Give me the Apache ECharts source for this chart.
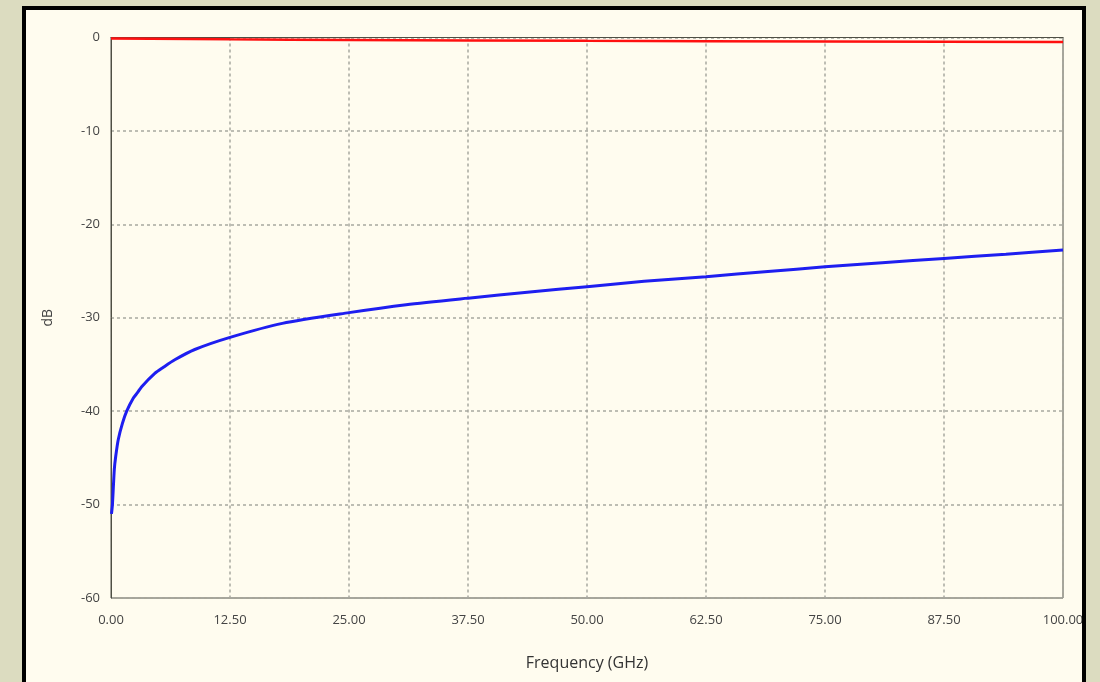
<!DOCTYPE html>
<html>
<head>
<meta charset="utf-8">
<script src="https://cdn.jsdelivr.net/npm/echarts@6/dist/echarts.min.js"></script>
<style>
  html, body { margin: 0; padding: 0; background: #dcdcc0; width: 1100px; height: 682px; overflow: hidden; }
  #fill { position: absolute; left: 22px; top: 6px; width: 1064px; height: 700px; background: #fffcef; }
  #chart { position: absolute; left: 0; top: 0; width: 1100px; height: 682px; }
  #frame { position: absolute; left: 22px; top: 6px; width: 1056px; height: 700px; border: 4px solid #000; pointer-events: none; }
</style>
</head>
<body>
<div id="fill"></div>
<div id="chart"></div>
<div id="frame"></div>
<script>
// Frequency (GHz) sample points and values (dB)
const blueFreq = [0.05, 0.15, 0.35, 0.5, 0.77, 1.2, 1.65, 2.35, 2.8, 3.2, 4.6, 5.5, 6.7, 8.8, 12.5, 18, 25, 31, 37.5, 44, 50, 56, 62.5, 69, 75, 81, 87.5, 94, 100];
const blueDb   = [-51.0, -50.0, -46.2, -44.8, -43.0, -41.3, -40.0, -38.6, -38.0, -37.4, -35.95, -35.3, -34.5, -33.4, -32.1, -30.6, -29.45, -28.6, -27.9, -27.25, -26.67, -26.1, -25.6, -25.05, -24.55, -24.1, -23.65, -23.2, -22.75];
const redFreq  = [0, 12.5, 25, 50, 75, 100];
const redDb    = [-0.12, -0.2, -0.26, -0.36, -0.42, -0.48];
const xTicks = [0, 12.5, 25, 37.5, 50, 62.5, 75, 87.5, 100];
const yTicks = [-60, -50, -40, -30, -20, -10, 0];
const xTitle = 'Frequency (GHz)';
const yTitle = 'dB';

const chart = echarts.init(document.getElementById('chart'), null, { renderer: 'canvas' });
const font = '"Open Sans", "Noto Sans", sans-serif';
chart.setOption({
  backgroundColor: 'transparent',
  animation: false,
  grid: { left: 111, top: 37.5, right: 37, bottom: 84, show: true, borderColor: '#4f4f44', borderWidth: 1, backgroundColor: 'transparent' },
  xAxis: {
    type: 'value', min: 0, max: 100, interval: 12.5,
    name: xTitle, nameLocation: 'middle', nameGap: 57,
    nameTextStyle: { fontFamily: font, fontSize: 16, color: '#333' },
    axisLine: { show: true, lineStyle: { color: '#4f4f44', width: 1 } },
    axisTick: { show: false },
    axisLabel: { fontFamily: font, fontSize: 13, color: '#444', margin: 16, formatter: v => v.toFixed(2) },
    splitLine: { show: true, lineStyle: { color: '#a8a8a0', type: [3, 3], width: 1.5 } }
  },
  yAxis: {
    type: 'value', min: -60, max: 0, interval: 10,
    name: yTitle, nameLocation: 'middle', nameGap: 56, nameRotate: 90,
    nameTextStyle: { fontFamily: font, fontSize: 14, color: '#444' },
    axisLine: { show: true, lineStyle: { color: '#4f4f44', width: 1 } },
    axisTick: { show: false },
    axisLabel: { fontFamily: font, fontSize: 13, color: '#444', margin: 11 },
    splitLine: { show: true, lineStyle: { color: '#a8a8a0', type: [3, 3], width: 1.5 } }
  },
  series: [
    {
      type: 'line', data: redFreq.map((f, i) => [f, redDb[i]]), smooth: true, showSymbol: false,
      lineStyle: { color: '#ff1010', width: 2.5 }, z: 3
    },
    {
      type: 'line', data: blueFreq.map((f, i) => [f, blueDb[i]]), smooth: 0.25, showSymbol: false,
      lineStyle: { color: '#1e1ef0', width: 3 }, z: 4
    }
  ]
});
</script>
</body>
</html>
